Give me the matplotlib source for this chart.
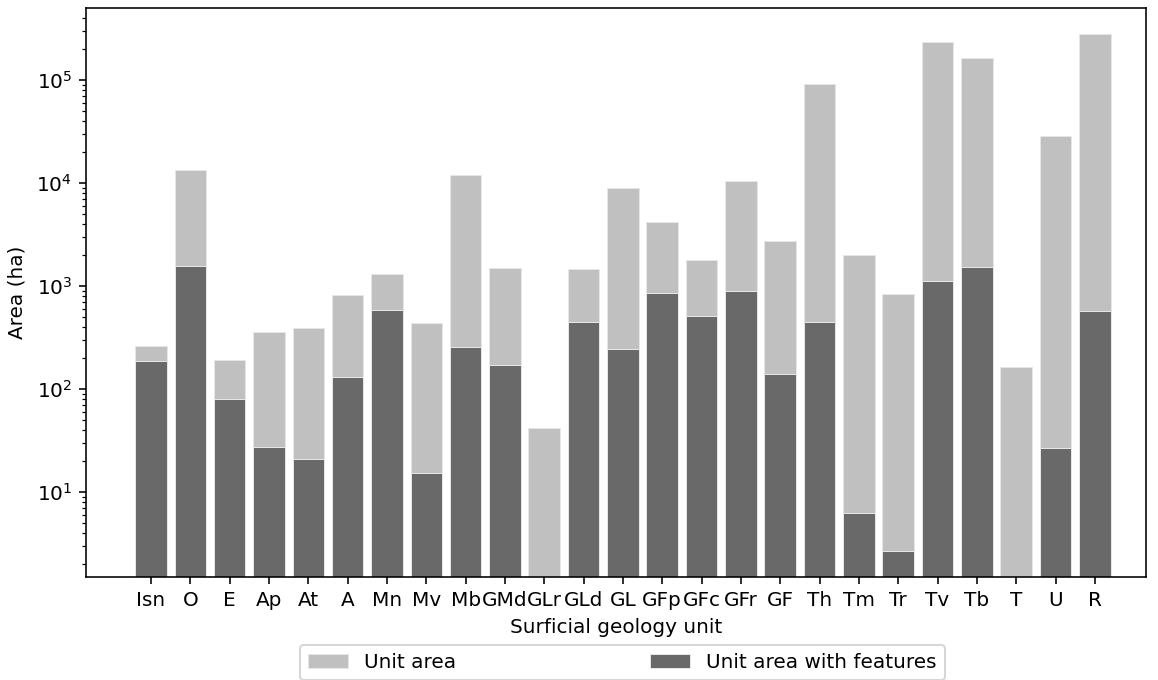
import numpy as np
import matplotlib
matplotlib.use('Agg')
import matplotlib.pyplot as plt

units = ['Isn', 'O', 'E', 'Ap', 'At', 'A', 'Mn', 'Mv', 'Mb', 'GMd', 'GLr', 'GLd',
         'GL', 'GFp', 'GFc', 'GFr', 'GF', 'Th', 'Tm', 'Tr', 'Tv', 'Tb', 'T', 'U', 'R']
unit_area = [260, 13360, 190, 355, 393, 818, 1300, 437, 11800, 1496, 41.4, 1452,
             8830, 4180, 1780, 10500, 2700, 91200, 2000, 836, 233000, 163000, 164, 28400, 278000]
feature_area = [187, 1563, 79.4, 27.4, 20.6, 130, 585, 15.1, 256, 171, 0, 449,
                244, 843, 505, 887, 138, 441, 6.25, 2.66, 1120, 1510, 0, 26.7, 571]

Fontsize = 10

fig = plt.figure(figsize=(1158 / 144, 680 / 144), dpi=144)
ax = fig.add_subplot(111)
fig.subplots_adjust(left=0.0743, right=0.9896, top=0.988, bottom=0.1515)

x = np.arange(len(units))
ax.bar(x, unit_area, width=0.8, color='#c0c0c0', edgecolor='#e6e6e6',
       linewidth=0.5, label='Unit area')
ax.bar(x, feature_area, width=0.8, color='#696969', edgecolor='#e6e6e6',
       linewidth=0.5, label='Unit area with features')

ax.set_yscale('log')
ax.set_ylim(1.49, 4.96e5)
ax.set_xlim(-1.65, 25.3)
ax.set_xticks(x)
ax.set_xticklabels(units, fontsize=Fontsize)
ax.tick_params(axis='y', labelsize=Fontsize)
ax.set_xlabel('Surficial geology unit', fontsize=Fontsize, labelpad=4)
ax.set_ylabel('Area (ha)', fontsize=Fontsize, labelpad=5)

ax.legend(loc='upper left', bbox_to_anchor=(0.202, -0.1195, 0.608, 0),
          mode='expand', ncol=2, fontsize=Fontsize, borderaxespad=0)

fig.savefig('out.png', dpi=144)
